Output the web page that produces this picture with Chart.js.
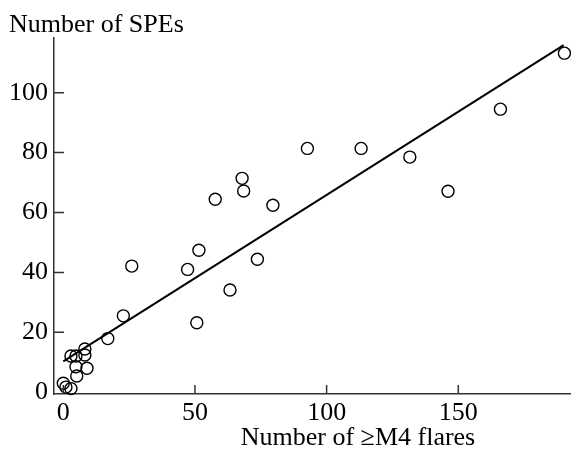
<!DOCTYPE html>
<html>
<head>
<meta charset="utf-8">
<script src="https://cdn.jsdelivr.net/npm/chart.js@4/dist/chart.umd.min.js"></script>
<style>
html,body{margin:0;padding:0;background:#fff;}
#wrap{position:relative;width:571px;height:451px;}
</style>
</head>
<body>
<div id="wrap"><canvas id="c" width="571" height="451"></canvas></div>
<script>
// Data
const flares = [190.3,166.0,146.1,131.6,113.1,92.7,79.6,73.7,68.5,67.9,57.7,51.5,47.2,63.3,50.7,26.0,22.8,16.9,8.2,8.2,4.8,2.9,4.8,9.0,5.1,0.0,1.0,2.9];
const spes   = [113.2,94.5,67.1,78.5,81.4,81.4,62.4,44.4,67.2,71.4,64.4,47.4,41.0,34.1,23.2,42.1,25.5,17.9,14.4,12.4,12.1,12.1,8.5,8.0,5.4,3.0,1.7,1.2];
const fitX = [0, 190];
const fitY = [10.3, 115.9];
const xTicks = [0, 50, 100, 150];
const yTicks = [0, 20, 40, 60, 80, 100];
const xTitle = "Number of \u2265M4 flares";
const yTitle = "Number of SPEs";

const FONT = "'Liberation Serif','Times New Roman',serif";
const AXIS = '#333';

const axisDecor = {
  id: 'axisDecor',
  afterDraw(chart) {
    const ctx = chart.ctx, xs = chart.scales.x, ys = chart.scales.y;
    const a = chart.chartArea;
    ctx.save();
    ctx.strokeStyle = AXIS;
    ctx.lineWidth = 1.5;
    ctx.beginPath();
    xTicks.forEach(v => { const p = xs.getPixelForValue(v); ctx.moveTo(p, a.bottom); ctx.lineTo(p, a.bottom - 9); });
    yTicks.forEach(v => { if (v === 0) return; const p = ys.getPixelForValue(v); ctx.moveTo(a.left, p); ctx.lineTo(a.left + 10, p); });
    ctx.stroke();
    ctx.fillStyle = '#000';
    ctx.font = "26px " + FONT;
    ctx.textBaseline = 'alphabetic';
    ctx.textAlign = 'left';
    ctx.fillText(yTitle, 9, 32);
    ctx.textAlign = 'center';
    ctx.fillText(xTitle, 358, 445);
    ctx.restore();
  }
};

new Chart(document.getElementById('c'), {
  type: 'scatter',
  data: {
    datasets: [
      {
        type: 'line',
        data: fitX.map((x, i) => ({x, y: fitY[i]})),
        borderColor: '#000',
        borderWidth: 2,
        pointRadius: 0,
        fill: false,
        order: 2
      },
      {
        data: flares.map((x, i) => ({x, y: spes[i]})),
        pointRadius: 6,
        pointHoverRadius: 6,
        pointBorderWidth: 1.4,
        borderColor: '#000',
        backgroundColor: 'rgba(0,0,0,0)',
        order: 1
      }
    ]
  },
  options: {
    responsive: false,
    animation: false,
    devicePixelRatio: 1,
    clip: false,
    layout: { autoPadding: false, padding: { top: 38, left: 0, right: 0, bottom: 0 } },
    plugins: { legend: { display: false }, tooltip: { enabled: false }, title: { display: false } },
    scales: {
      x: {
        type: 'linear',
        min: -3.53,
        max: 192.8,
        afterFit(s) { s.height = 57; },
        afterBuildTicks(s) { s.ticks = xTicks.map(v => ({value: v})); },
        grid: { display: false, drawTicks: false },
        border: { display: true, color: AXIS, width: 1.5 },
        ticks: { color: '#000', font: { family: FONT, size: 26 }, padding: 4, maxRotation: 0, autoSkip: false }
      },
      y: {
        type: 'linear',
        min: -0.6,
        max: 118.26,
        afterFit(s) { s.width = 54; },
        afterBuildTicks(s) { s.ticks = yTicks.map(v => ({value: v})); },
        grid: { display: false, drawTicks: false },
        border: { display: true, color: AXIS, width: 1.5 },
        ticks: { color: '#000', font: { family: FONT, size: 26 }, padding: 6, autoSkip: false }
      }
    }
  },
  plugins: [axisDecor]
});
</script>
</body>
</html>
